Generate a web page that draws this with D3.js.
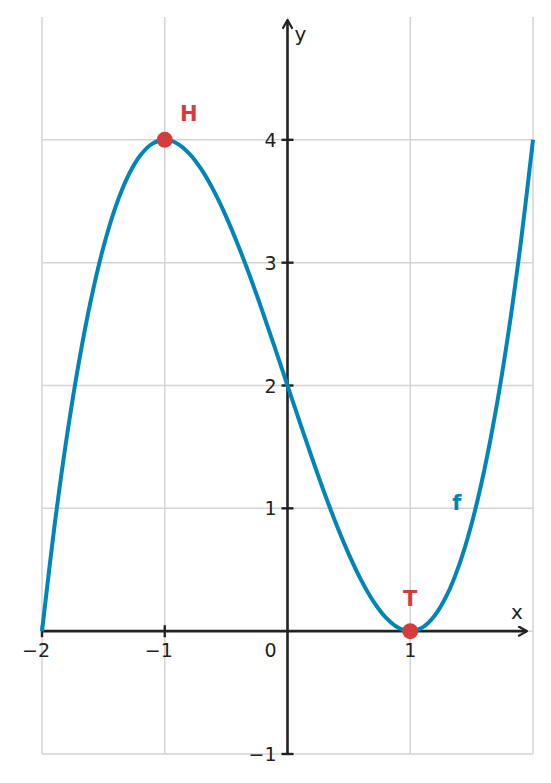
<!DOCTYPE html>
<html><head><meta charset="utf-8">
<script src="https://cdn.jsdelivr.net/npm/d3@7"></script>
<style>body{margin:0;background:#fff}svg{display:block}text{font-family:"DejaVu Sans",sans-serif}</style>
</head><body><svg id="c" width="551" height="783"></svg>
<script>
const xs = [-2,-1.9,-1.8,-1.7,-1.6,-1.5,-1.4,-1.3,-1.2,-1.1,-1,-0.9,-0.8,-0.7,-0.6,-0.5,-0.4,-0.3,-0.2,-0.1,0,0.1,0.2,0.3,0.4,0.5,0.6,0.7,0.8,0.9,1,1.1,1.2,1.3,1.4,1.5,1.6,1.7,1.8,1.9,2];
const ys = [0,0.841,1.568,2.187,2.704,3.125,3.456,3.703,3.872,3.969,4,3.971,3.888,3.757,3.584,3.375,3.136,2.873,2.592,2.299,2,1.701,1.408,1.127,0.864,0.625,0.416,0.243,0.112,0.029,0,0.031,0.128,0.297,0.544,0.875,1.296,1.813,2.432,3.159,4];
const xTicks = [-2,-1,1];
const yTicks = [-1,1,2,3,4];
const xGrid = [-2,-1,0,1,2];
const yGrid = [-1,0,1,2,3,4];
const extrema = [{x:-1,y:4,label:"H"},{x:1,y:0,label:"T"}];
const fnLabel = {x:1.38,y:1.05,label:"f"};

const svg = d3.select("#c");
const x = d3.scaleLinear().domain([-2,2]).range([42,533]);
const y = d3.scaleLinear().domain([-1,5]).range([754,17]);
const ink = "#222";
const blue = "#0085b9", red = "#d63c3c";

// grid
svg.append("g").selectAll("line").data(xGrid).join("line")
  .attr("x1",d=>x(d)).attr("x2",d=>x(d)).attr("y1",y(5)).attr("y2",y(-1))
  .attr("stroke","#d3d3d3").attr("stroke-width",1.5);
svg.append("g").selectAll("line").data(yGrid).join("line")
  .attr("y1",d=>y(d)).attr("y2",d=>y(d)).attr("x1",x(-2)).attr("x2",x(2))
  .attr("stroke","#d3d3d3").attr("stroke-width",1.5);

// axes
const defs = svg.append("defs");
defs.append("marker").attr("id","arr").attr("viewBox","0 0 10 10").attr("refX",9).attr("refY",5)
  .attr("markerWidth",11).attr("markerHeight",11).attr("markerUnits","userSpaceOnUse").attr("orient","auto")
  .append("path").attr("d","M1,0.5 L9,5 L1,9.5").attr("fill","none").attr("stroke",ink).attr("stroke-width",2);
svg.append("line").attr("x1",x(-2)).attr("x2",x(2)-6).attr("y1",y(0)).attr("y2",y(0))
  .attr("stroke",ink).attr("stroke-width",2.6).attr("marker-end","url(#arr)");
svg.append("line").attr("x1",x(0)).attr("x2",x(0)).attr("y1",y(-1)).attr("y2",y(5)+3)
  .attr("stroke",ink).attr("stroke-width",2.6).attr("marker-end","url(#arr)");

// ticks
svg.append("g").selectAll("line").data(xTicks).join("line")
  .attr("x1",d=>x(d)).attr("x2",d=>x(d)).attr("y1",y(0)-6).attr("y2",y(0)+6)
  .attr("stroke",ink).attr("stroke-width",2.4);
svg.append("g").selectAll("line").data(yTicks).join("line")
  .attr("y1",d=>y(d)).attr("y2",d=>y(d)).attr("x1",x(0)-6).attr("x2",x(0)+6)
  .attr("stroke",ink).attr("stroke-width",2.4);
const fmt = d => d<0 ? "\u2212"+Math.abs(d) : String(d);
svg.append("g").selectAll("text").data(xTicks).join("text")
  .attr("x",d=>x(d)-(d<0?6:0)).attr("y",y(0)+26).attr("text-anchor","middle")
  .attr("font-size",19).attr("fill",ink).text(fmt);
svg.append("g").selectAll("text").data(yTicks).join("text")
  .attr("x",x(0)-11).attr("y",d=>y(d)+7).attr("text-anchor","end")
  .attr("font-size",19).attr("fill",ink).text(fmt);
svg.append("text").attr("x",x(0)-11).attr("y",y(0)+26).attr("text-anchor","end")
  .attr("font-size",19).attr("fill",ink).text("0");
svg.append("text").attr("x",x(0)+7).attr("y",y(5)+24).attr("font-size",20).attr("fill",ink).text("y");
svg.append("text").attr("x",x(2)-22).attr("y",y(0)-12).attr("font-size",20).attr("fill",ink).text("x");

// curve
const pts = xs.map((v,i)=>[v,ys[i]]);
svg.append("path").datum(pts)
  .attr("d",d3.line().x(d=>x(d[0])).y(d=>y(d[1])).curve(d3.curveCatmullRom.alpha(0.5)))
  .attr("fill","none").attr("stroke",blue).attr("stroke-width",4);

// points
svg.append("g").selectAll("circle").data(extrema).join("circle")
  .attr("cx",d=>x(d.x)).attr("cy",d=>y(d.y)).attr("r",8).attr("fill",red);
svg.append("text").attr("x",x(-1)+24).attr("y",y(4)-19).attr("text-anchor","middle")
  .attr("font-size",21).attr("font-weight","bold").attr("fill",red).text(extrema[0].label);
svg.append("text").attr("x",x(1)).attr("y",y(0)-25).attr("text-anchor","middle")
  .attr("font-size",21).attr("font-weight","bold").attr("fill",red).text(extrema[1].label);
svg.append("text").attr("x",x(fnLabel.x)).attr("y",y(fnLabel.y)+8).attr("text-anchor","middle")
  .attr("font-size",21).attr("font-weight","bold").attr("fill",blue).text(fnLabel.label);
</script></body></html>
